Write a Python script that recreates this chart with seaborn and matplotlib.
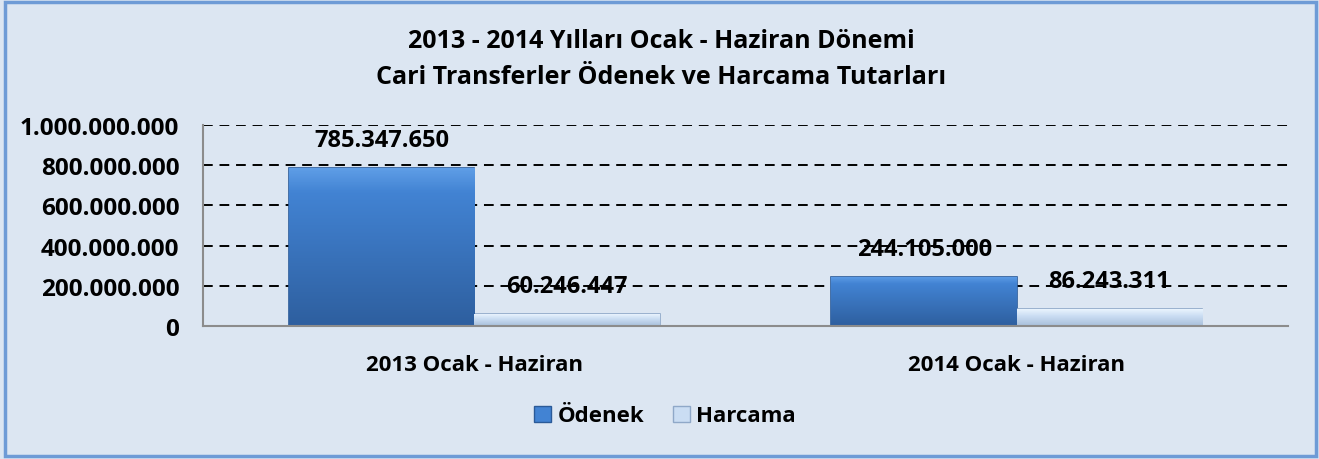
import pandas as pd
import numpy as np
import matplotlib
matplotlib.use("Agg")
import matplotlib.pyplot as plt
import matplotlib.patches as mpatches
from matplotlib.colors import LinearSegmentedColormap
import seaborn as sns

# data
periods = ["2013 Ocak - Haziran", "2014 Ocak - Haziran"]
series = ["Ödenek", "Harcama"]
odenek = [785347650, 244105000]
harcama = [60246447, 86243311]
y_ticks = [0, 200000000, 400000000, 600000000, 800000000, 1000000000]
title_lines = ["2013 - 2014 Yılları Ocak - Haziran Dönemi",
               "Cari Transferler Ödenek ve Harcama Tutarları"]

df = pd.DataFrame({
    "donem": periods * 2,
    "tur": [series[0]] * 2 + [series[1]] * 2,
    "tutar": odenek + harcama,
})

bg = "#DCE6F2"
colors = {"Ödenek": "#3D7AC6", "Harcama": "#C2D6EE"}
edges = {"Ödenek": "#2A5A98", "Harcama": "#8FA8C8"}
# vertical shading (bottom -> top) to mimic the bevelled Excel bars
shades = {"Ödenek": [(0, "#2E5F9F"), (0.85, "#4283D3"), (1, "#5E9DE6")],
          "Harcama": [(0, "#A8BFDA"), (0.55, "#CADDF3"), (1, "#EEF7FF")]}

sns.set_style("white")
plt.rcParams["font.family"] = ["Open Sans", "DejaVu Sans"]
plt.rcParams["text.color"] = "black"
plt.rcParams["xtick.color"] = "black"
plt.rcParams["ytick.color"] = "black"
fs = 17

def dotted(v):
    return f"{v:,.0f}".replace(",", ".")

fig = plt.figure(figsize=(13.19, 4.6), dpi=100, facecolor=bg)
ax = fig.add_axes([203 / 1319, 1 - 327 / 460, (1288 - 203) / 1319, (327 - 126) / 460])
ax.set_facecolor(bg)

sns.barplot(data=df, x="donem", y="tutar", hue="tur", hue_order=series,
            palette=colors, width=0.683, gap=0, ax=ax, legend=False,
            linewidth=1.2, saturation=1)

ax.set_ylim(0, 1000000000)
ax.set_xlim(-0.5, 1.5)

# bar shading, edges and value labels
for cont, name in zip(ax.containers, series):
    cmap = LinearSegmentedColormap.from_list(name, shades[name])
    for bar in cont:
        bar.set_edgecolor(edges[name])
        bar.set_zorder(3)
        x0, w, h = bar.get_x(), bar.get_width(), bar.get_height()
        grad = np.linspace(0, 1, 100).reshape(-1, 1)
        im = ax.imshow(grad, cmap=cmap, origin="lower", aspect="auto",
                       extent=(x0, x0 + w, 0, h), zorder=3.5)
        im.set_clip_path(bar)
        ax.annotate(dotted(h), (x0 + w / 2, h),
                    xytext=(0, 20), textcoords="offset points",
                    ha="center", va="center", fontsize=fs, fontweight="bold",
                    color="black", zorder=5)

ax.set_ylim(0, 1000000000)
ax.set_xlim(-0.5, 1.5)
ax.set_yticks(y_ticks)
ax.set_yticklabels([dotted(v) for v in y_ticks], fontsize=17.5, fontweight="bold")
ax.set_xticks([0, 1])
ax.set_xticklabels(periods, fontsize=16, fontweight="bold")
ax.set_xticks([-0.5, 0.5, 1.5], minor=True)
ax.tick_params(axis="x", which="major", length=0, pad=20, labelcolor="black")
ax.tick_params(axis="x", which="minor", length=8, color="#8C8C8C", width=1.2)
ax.tick_params(axis="y", length=8, color="#8C8C8C", width=1.2, pad=9, labelcolor="black")
ax.set_xlabel("")
ax.set_ylabel("")

for y in y_ticks[1:]:
    ax.axhline(y, color="black", linestyle=(0, (5, 3.5)), linewidth=1.4, zorder=1)

for s in ["top", "right"]:
    ax.spines[s].set_visible(False)
for s in ["left", "bottom"]:
    ax.spines[s].set_color("#8C8C8C")
    ax.spines[s].set_linewidth(1.5)
    ax.spines[s].set_zorder(4)

fig.text(661 / 1319, 1 - 42 / 460, title_lines[0], ha="center", va="center",
         fontsize=18, fontweight="bold", color="black")
fig.text(661 / 1319, 1 - 77 / 460, title_lines[1], ha="center", va="center",
         fontsize=18, fontweight="bold", color="black")

handles = [mpatches.Patch(facecolor=shades[n][1][1], edgecolor=edges[n], label=n) for n in series]
fig.legend(handles=handles, loc="center", bbox_to_anchor=(665 / 1319, 1 - 417 / 460),
           ncol=2, frameon=False, handlelength=0.75, handleheight=0.75,
           handletextpad=0.3, columnspacing=1.3, labelcolor="black",
           prop={"weight": "bold", "size": 16})

fig.patches.append(mpatches.Rectangle((5 / 1319, 3 / 460), 1311 / 1319, 454 / 460,
                                      transform=fig.transFigure, fill=False,
                                      edgecolor="#6E9BD6", linewidth=2.5))

fig.savefig("out.png", dpi=100, facecolor=bg)
